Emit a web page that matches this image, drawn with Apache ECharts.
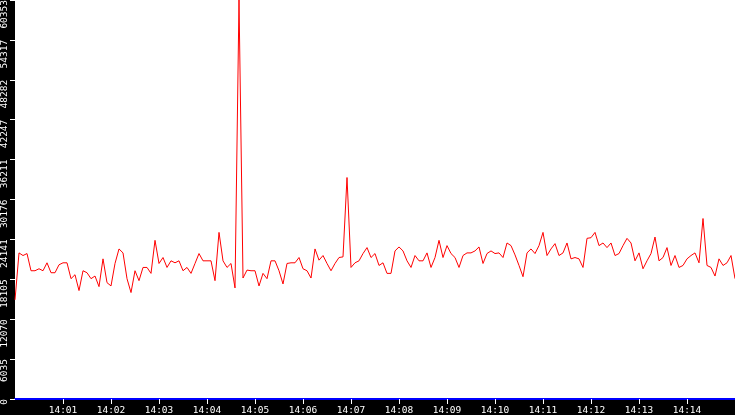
<!DOCTYPE html>
<html>
<head>
<meta charset="utf-8">
<script src="https://cdn.jsdelivr.net/npm/echarts@6/dist/echarts.min.js"></script>
<style>
  html, body { margin: 0; padding: 0; background: #000; }
  #main { width: 735px; height: 415px; }
</style>
</head>
<body>
<div id="main"></div>
<script>
// samples every 5 s, starting 14:00:00
var stepSec = 5;
var startHour = 14;
var spanSec = 900;

var yMax = 60353;
var yTicks = 10;

// 14:00:00 - 14:04:55
var part1 = [
  15000, 22100, 21700, 22000, 19400, 19400, 19700, 19400, 20600, 19100,
  19100, 20300, 20600, 20600, 18200, 18800, 16400, 19400, 19100, 18200,
  18600, 17000, 21200, 17600, 17100, 20500, 22700, 22100, 18200, 16100,
  19400, 17900, 19900, 19900, 19000, 24000, 20500, 21400, 19900, 20900,
  20600, 20900, 19400, 19900, 19000, 20500, 22000, 20900, 20900, 20900,
  17900, 25200, 20900, 19900, 20500, 16800, 60353, 18300, 19500, 19400
];
// 14:05:00 - 14:09:55
var part2 = [
  19400, 17100, 19000, 18200, 20900, 20900, 19400, 17400, 20500, 20600,
  20600, 21400, 19700, 19400, 18300, 22700, 21000, 21700, 20500, 19400,
  20500, 21400, 21500, 33500, 19900, 20600, 20900, 22000, 22900, 21400,
  22000, 20200, 20600, 19000, 19000, 22400, 23000, 22400, 20900, 19900,
  21700, 20900, 20900, 22100, 19900, 21400, 24000, 21400, 23200, 22000,
  21400, 19900, 21700, 22100, 22100, 22400, 23000, 20500, 22000, 22400
];
// 14:10:00 - 14:15:00
var part3 = [
  22000, 22100, 21400, 23600, 23200, 21800, 20200, 18500, 22100, 22700,
  22000, 23200, 25200, 21700, 22700, 23500, 21700, 22100, 23600, 21200,
  21400, 21200, 19900, 24300, 24400, 25200, 23200, 23600, 22900, 23600,
  21700, 22000, 23200, 24300, 23600, 20900, 22100, 19700, 20900, 22000,
  24500, 20900, 21400, 22900, 20200, 21700, 19900, 20200, 21200, 21700,
  22100, 20600, 27300, 20200, 19900, 18600, 21200, 20200, 20600, 21700,
  18200
];

var values = part1.concat(part2, part3);
var series1 = values.map(function (v, i) { return [i * stepSec, v]; });

function pad(n) { return n < 10 ? '0' + n : '' + n; }

var chart = echarts.init(document.getElementById('main'), null, { renderer: 'canvas' });

var option = {
  backgroundColor: '#000',
  animation: false,
  grid: {
    left: 15,
    right: 0,
    top: 0,
    bottom: 16,
    show: true,
    backgroundColor: '#fff',
    borderWidth: 0,
    containLabel: false,
    outerBoundsMode: 'none'
  },
  xAxis: {
    type: 'value',
    min: 0,
    max: spanSec,
    interval: 60,
    axisLine: { show: true, onZero: false, lineStyle: { color: '#0000ff', width: 2 } },
    axisTick: { show: true, length: 5, lineStyle: { color: '#fff', width: 1 } },
    splitLine: { show: false },
    axisLabel: {
      color: '#fff',
      fontFamily: 'DejaVu Sans Mono',
      fontSize: 9.5,
      margin: 7,
      showMinLabel: false,
      showMaxLabel: false,
      formatter: function (v) {
        var m = Math.round(v / 60);
        return (startHour + Math.floor(m / 60)) + ':' + pad(m % 60);
      }
    }
  },
  yAxis: {
    type: 'value',
    min: 0,
    max: yMax,
    interval: yMax / yTicks,
    axisLine: { show: false },
    axisTick: { show: true, length: 5, lineStyle: { color: '#fff', width: 1 } },
    splitLine: { show: false },
    axisLabel: {
      color: '#fff',
      fontFamily: 'DejaVu Sans Mono',
      fontSize: 9.5,
      rotate: 90,
      margin: 5,
      align: 'right',
      verticalAlign: 'bottom',
      formatter: function (v) { return '' + Math.floor(v + 1e-6); }
    }
  },
  series: [{
    type: 'line',
    data: series1,
    showSymbol: false,
    symbol: 'none',
    clip: true,
    lineStyle: { color: '#ff0000', width: 1 }
  }]
};

chart.setOption(option);
</script>
</body>
</html>
